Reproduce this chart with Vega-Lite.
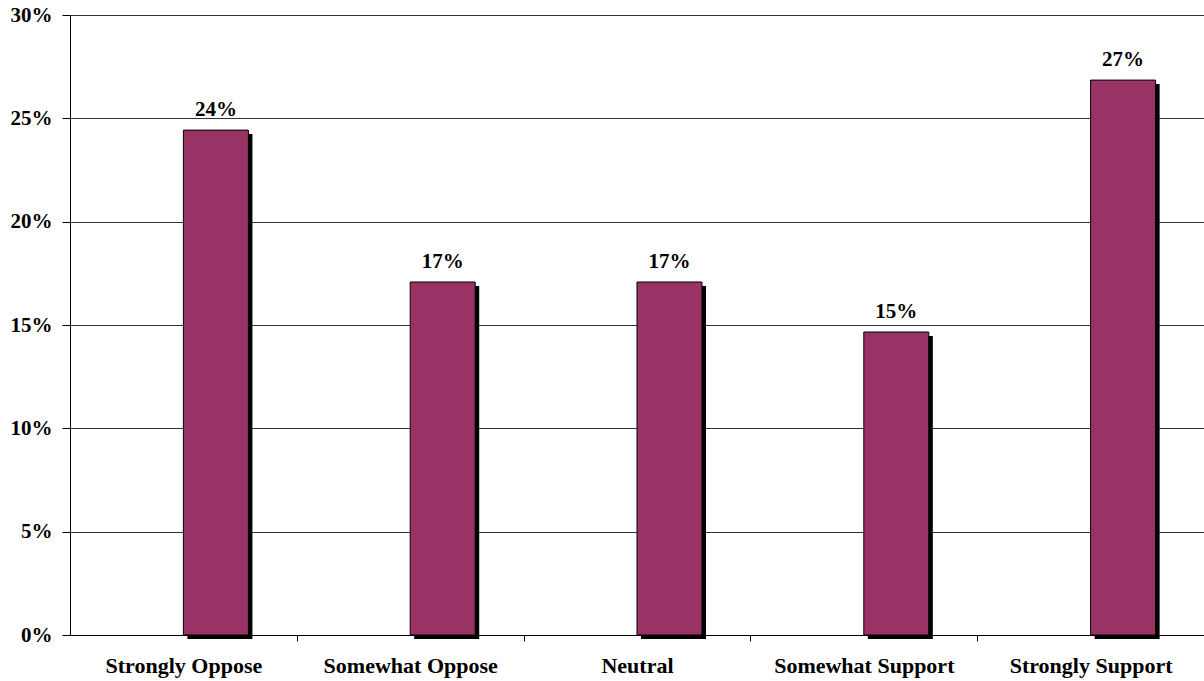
{
  "$schema": "https://vega.github.io/schema/vega-lite/v6.json",
  "width": 1134,
  "height": 620,
  "autosize": {"type": "none"},
  "padding": {"left": 70, "top": 15, "right": 0, "bottom": 46},
  "background": "white",
  "config": {
    "view": {"stroke": null},
    "font": "Liberation Serif"
  },
  "data": {
    "values": [
      {"category": "Strongly Oppose", "series": "pct", "value": 0.2443, "label": "24%"},
      {"category": "Somewhat Oppose", "series": "pct", "value": 0.1708, "label": "17%"},
      {"category": "Neutral", "series": "pct", "value": 0.1708, "label": "17%"},
      {"category": "Somewhat Support", "series": "pct", "value": 0.1466, "label": "15%"},
      {"category": "Strongly Support", "series": "pct", "value": 0.2685, "label": "27%"}
    ]
  },
  "encoding": {
    "x": {
      "field": "category",
      "type": "nominal",
      "sort": null,
      "scale": {"paddingInner": 0.427, "paddingOuter": 0.2135},
      "axis": {
        "title": null,
        "labelAngle": 0,
        "labelFont": "Liberation Serif",
        "labelFontWeight": "bold",
        "labelFontSize": 22,
        "labelColor": "black",
        "labelPadding": 14,
        "labelLimit": 0,
        "tickBand": "center",
        "tickOffset": 113.4,
        "labelOffset": -113.4,
        "tickSize": 6,
        "tickColor": "black",
        "domainColor": "black",
        "grid": false
      }
    },
    "y": {
      "field": "value",
      "type": "quantitative",
      "scale": {"domain": [0, 0.3], "nice": false},
      "axis": {
        "title": null,
        "format": ".0%",
        "values": [0, 0.05, 0.1, 0.15, 0.2, 0.25, 0.3],
        "labelFont": "Liberation Serif",
        "labelFontWeight": "bold",
        "labelFontSize": 21,
        "labelColor": "black",
        "labelPadding": 10,
        "tickSize": 8,
        "tickColor": "black",
        "domainColor": "black",
        "gridColor": "#333333",
        "gridWidth": 1
      }
    }
  },
  "layer": [
    {
      "mark": {"type": "bar", "color": "black", "yOffset": 4, "y2Offset": -4},
      "encoding": {
        "xOffset": {
          "field": "series",
          "type": "nominal",
          "scale": {"domain": ["blank", "pct"], "paddingInner": 0, "paddingOuter": 0, "range": [4, 134]}
        }
      }
    },
    {
      "mark": {"type": "bar", "color": "#993366", "stroke": "black", "strokeWidth": 1},
      "encoding": {
        "xOffset": {
          "field": "series",
          "type": "nominal",
          "scale": {"domain": ["blank", "pct"], "paddingInner": 0, "paddingOuter": 0}
        }
      }
    },
    {
      "mark": {"type": "text", "font": "Liberation Serif", "fontWeight": "bold", "fontSize": 21, "color": "black", "baseline": "alphabetic", "dy": -14},
      "encoding": {
        "text": {"field": "label"},
        "x": {"field": "category", "type": "nominal", "sort": null, "bandPosition": 0.75}
      }
    }
  ],
  "resolve": {"scale": {"xOffset": "independent"}}
}
